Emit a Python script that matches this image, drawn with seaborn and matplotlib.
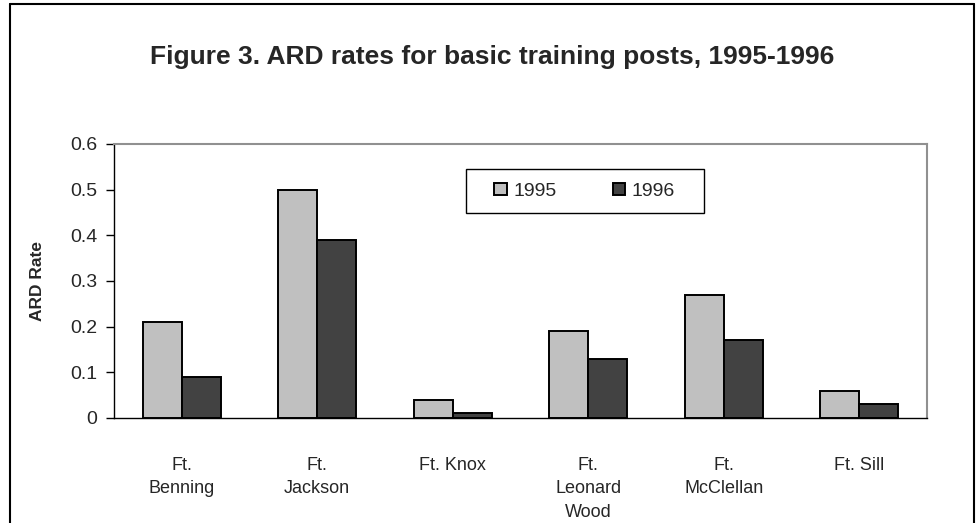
import pandas as pd
import matplotlib
matplotlib.use('Agg')
import matplotlib.pyplot as plt
import seaborn as sns
from matplotlib.lines import Line2D
from matplotlib.patches import Rectangle

# Chart data
posts = ['Ft.\nBenning', 'Ft.\nJackson', 'Ft. Knox', 'Ft.\nLeonard\nWood', 'Ft.\nMcClellan', 'Ft. Sill']
years = ['1995', '1996']
rates_1995 = [0.21, 0.50, 0.04, 0.19, 0.27, 0.06]
rates_1996 = [0.09, 0.39, 0.01, 0.13, 0.17, 0.03]
y_ticks = [0, 0.1, 0.2, 0.3, 0.4, 0.5, 0.6]
y_tick_labels = ['0', '0.1', '0.2', '0.3', '0.4', '0.5', '0.6']

df = pd.DataFrame({
    'post': posts * 2,
    'year': [years[0]] * len(posts) + [years[1]] * len(posts),
    'rate': rates_1995 + rates_1996,
})

sns.set_style('white')
plt.rcParams['font.family'] = ['Liberation Sans', 'DejaVu Sans']

fig = plt.figure(figsize=(9.79, 5.23), dpi=100)
ax = fig.add_axes([0.1164, 0.2008, 0.8306, 0.5239])

sns.barplot(data=df, x='post', y='rate', hue='year', order=posts, hue_order=years,
            palette=['#c0c0c0', '#424242'], width=0.575, edgecolor='black',
            linewidth=1.4, saturation=1, ax=ax)

ax.set_xlim(-0.5, len(posts) - 0.5)
ax.set_ylim(0, 0.6)
ax.set_yticks(y_ticks)
ax.set_yticklabels(y_tick_labels, fontsize=14)
ax.set_xticks(range(len(posts)))
ax.set_xticklabels(posts, fontsize=13, linespacing=1.5, va='top')
ax.set_xticks([i - 0.5 for i in range(len(posts) + 1)], minor=True)
ax.tick_params(axis='x', which='major', length=0, pad=28)
ax.tick_params(axis='x', which='minor', length=12, direction='inout', width=1, color='black')
ax.tick_params(axis='y', which='major', length=6, direction='out', width=1, color='black', left=True, pad=6)
ax.set_xlabel('')
ax.set_ylabel('ARD Rate', fontsize=12.5, fontweight='bold', labelpad=18)

for side in ['left', 'bottom']:
    ax.spines[side].set_color('black')
    ax.spines[side].set_linewidth(1)
for side in ['top', 'right']:
    ax.spines[side].set_color('#909090')
    ax.spines[side].set_linewidth(1.5)

# legend with a plain rectangular box
leg = ax.legend(loc='center', bbox_to_anchor=(0.579, 0.828), ncol=2, fontsize=14,
                frameon=False, handlelength=0.62, handleheight=0.62, handletextpad=0.35,
                columnspacing=2.9, title=None)
for h in leg.legend_handles:
    h.set_linewidth(1.4)
ax.add_patch(Rectangle((0.433, 0.748), 0.293, 0.161, transform=ax.transAxes,
                       fill=False, edgecolor='black', linewidth=1, clip_on=False))

fig.text(0.503, 1 - 64 / 523, 'Figure 3. ARD rates for basic training posts, 1995-1996',
         fontsize=19, fontweight='bold', ha='center', va='baseline')

# outer chart border (bottom edge is off the image)
for xs, ys in [([0.0105, 0.0105], [-0.1, 0.993]), ([0.0105, 0.995], [0.993, 0.993]),
               ([0.995, 0.995], [0.993, -0.1])]:
    fig.add_artist(Line2D(xs, ys, color='black', linewidth=1.5, transform=fig.transFigure))

fig.savefig('out.png', dpi=100)
